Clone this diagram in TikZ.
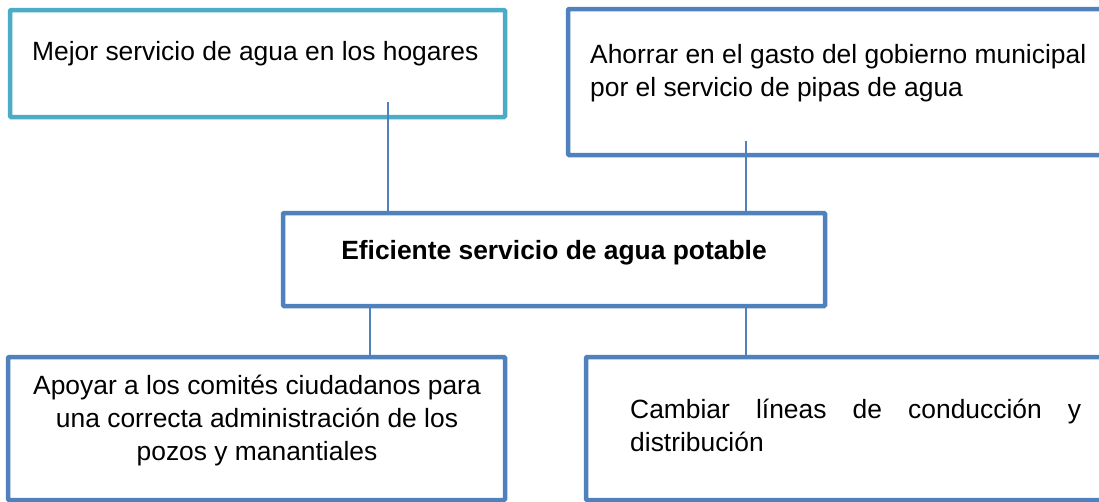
\documentclass[tikz,border=0pt]{standalone}
\usepackage{fontspec}
\setmainfont{Liberation Sans}
\definecolor{marco}{HTML}{4F81BD}
\definecolor{turquesa}{HTML}{4BACC6}
\hyphenpenalty=10000
\tolerance=10000

\begin{document}
\begin{tikzpicture}[x=1pt, y=-1pt,
	caja/.style={draw=marco, line width=4.5pt, rounded corners=1pt, inner sep=0pt},
	texto/.style={inner sep=0pt, font=\fontsize{26.4pt}{33pt}\selectfont},
	enlace/.style={draw=marco, line width=2pt}]
	\useasboundingbox (0,0) rectangle (1099,501);
	\fill[white] (0,0) rectangle (1099,501);
	\clip (0,0) rectangle (1099,501);
	\node[caja, draw=turquesa, minimum width=495pt, minimum height=107pt] (hogares) at (257.5,63.5) {};
	\node[caja, minimum width=542pt, minimum height=146pt] (gasto) at (839,82) {};
	\node[caja, minimum width=542pt, minimum height=93pt] (eficiente) at (554,259.5) {};
	\node[caja, minimum width=497pt, minimum height=143pt] (comites) at (256.5,428.5) {};
	\node[caja, minimum width=524pt, minimum height=143pt] (lineas) at (848,428.5) {};
	\node[texto, anchor=base west] (thogares) at (32,60) {Mejor servicio de agua en los hogares};
	\node[texto, anchor=base west, align=left] (tgasto) at (590,96) {Ahorrar en el gasto del gobierno municipal\\por el servicio de pipas de agua};
	\node[texto, anchor=base, font=\fontsize{26.4pt}{33pt}\selectfont\bfseries] (teficiente) at (554,259) {Eficiente servicio de agua potable};
	\node[texto, anchor=base, align=center] (tcomites) at (257,460) {Apoyar a los comités ciudadanos para\\una correcta administración de los\\pozos y manantiales};
	\node[texto, anchor=base west, text width=451pt, align=justify] (tlineas) at (630,418) {Cambiar líneas de conducción y distribución};
	\coordinate (a1) at (388,102);
	\coordinate (a2) at (746,141);
	\coordinate (a3) at (370,0);
	\draw[enlace] (a1) -- (a1 |- eficiente.north);
	\draw[enlace] (a2) -- (a2 |- eficiente.north);
	\draw[enlace] (eficiente.south -| a3) -- (comites.north -| a3);
	\draw[enlace] (eficiente.south -| a2) -- (lineas.north -| a2);
\end{tikzpicture}
\end{document}
